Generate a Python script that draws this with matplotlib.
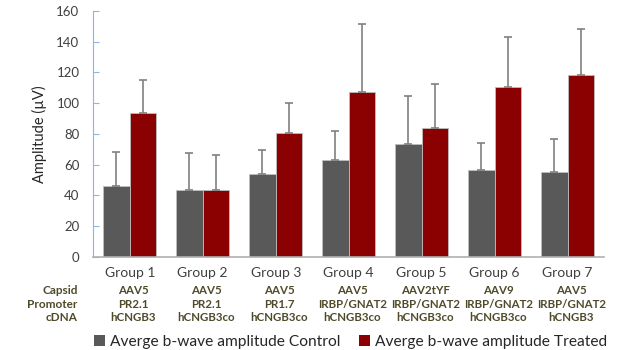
import numpy as np
import matplotlib
matplotlib.use('Agg')
import matplotlib.pyplot as plt
from matplotlib.patches import Patch
from matplotlib.transforms import blended_transform_factory

plt.rcParams['font.family'] = ['Lato', 'DejaVu Sans']

groups = ['Group 1', 'Group 2', 'Group 3', 'Group 4', 'Group 5', 'Group 6', 'Group 7']
control = [46.2, 43.6, 54.0, 63.1, 73.5, 56.8, 54.9]
control_err = [21.9, 23.8, 15.2, 18.9, 31.0, 17.3, 21.7]
treated = [93.7, 43.2, 80.5, 107.3, 83.5, 110.6, 118.0]
treated_err = [21.2, 23.1, 19.9, 44.2, 28.8, 32.1, 30.1]

row_names = ['Capsid', 'Promoter', 'cDNA']
capsid = ['AAV5', 'AAV5', 'AAV5', 'AAV5', 'AAV2tYF', 'AAV9', 'AAV5']
promoter = ['PR2.1', 'PR2.1', 'PR1.7', 'IRBP/GNAT2', 'IRBP/GNAT2', 'IRBP/GNAT2', 'IRBP/GNAT2']
cdna = ['hCNGB3', 'hCNGB3co', 'hCNGB3co', 'hCNGB3co', 'hCNGB3co', 'hCNGB3co', 'hCNGB3']

c_ctrl = '#595959'
c_trt = '#8b0000'
c_txt = '#4f4a2a'

fig = plt.figure(figsize=(6.26, 3.5), dpi=100)
ax = fig.add_axes([0.149, 0.266, 0.816, 0.703])

x = np.arange(len(groups))
w = 0.364
ekw = dict(ecolor='#808080', elinewidth=1.2, capsize=3, capthick=1.2)
ax.bar(x - w/2, control, w, color=c_ctrl, edgecolor='#bfbfbf', linewidth=0.6,
       yerr=[np.zeros(len(x)), control_err], error_kw=ekw, zorder=2)
ax.bar(x + w/2, treated, w, color=c_trt, edgecolor='#bfbfbf', linewidth=0.6,
       yerr=[np.zeros(len(x)), treated_err], error_kw=ekw, zorder=2)

ax.set_xlim(-0.5, 6.5)
ax.set_ylim(0, 160)
ax.set_yticks(np.arange(0, 161, 20))
ax.tick_params(axis='y', direction='in', length=4, color='#8eb4e3', labelsize=9.5,
               labelcolor='#404040', pad=10)
ax.set_xticks(x)
ax.set_xticklabels(groups, fontsize=10, color='#404040')
ax.tick_params(axis='x', length=0, pad=7)
for s in ['top', 'right']:
    ax.spines[s].set_visible(False)
ax.spines['left'].set_color('#8eb4e3')
ax.spines['bottom'].set_color('#b0b0b0')
ax.spines['bottom'].set_linewidth(1.2)
ax.set_ylabel('Amplitude (µV)', fontsize=10.5, color='#262626', labelpad=7)

# table under the groups
tr = blended_transform_factory(ax.transData, fig.transFigure)
rows_y = [0.171, 0.131, 0.093]
for vals, yy, name in zip([capsid, promoter, cdna], rows_y, row_names):
    fig.text(0.124, yy, name, ha='right', va='center', fontsize=8.5,
             fontweight='bold', color=c_txt)
    for i, v in enumerate(vals):
        ax.text(i + 0.05, yy, v, transform=tr, ha='center', va='center',
                fontsize=8.3, fontweight='bold', color=c_txt)

handles = [Patch(facecolor=c_ctrl), Patch(facecolor=c_trt)]
fig.legend(handles, ['Averge b-wave amplitude Control', 'Averge b-wave amplitude Treated'],
           loc='center', bbox_to_anchor=(0.56, 0.024), ncol=2, frameon=False,
           fontsize=11.2, handlelength=0.7, handleheight=0.7, handletextpad=0.3,
           columnspacing=1.2, labelcolor='#262626')

fig.savefig('out.png', dpi=100)
